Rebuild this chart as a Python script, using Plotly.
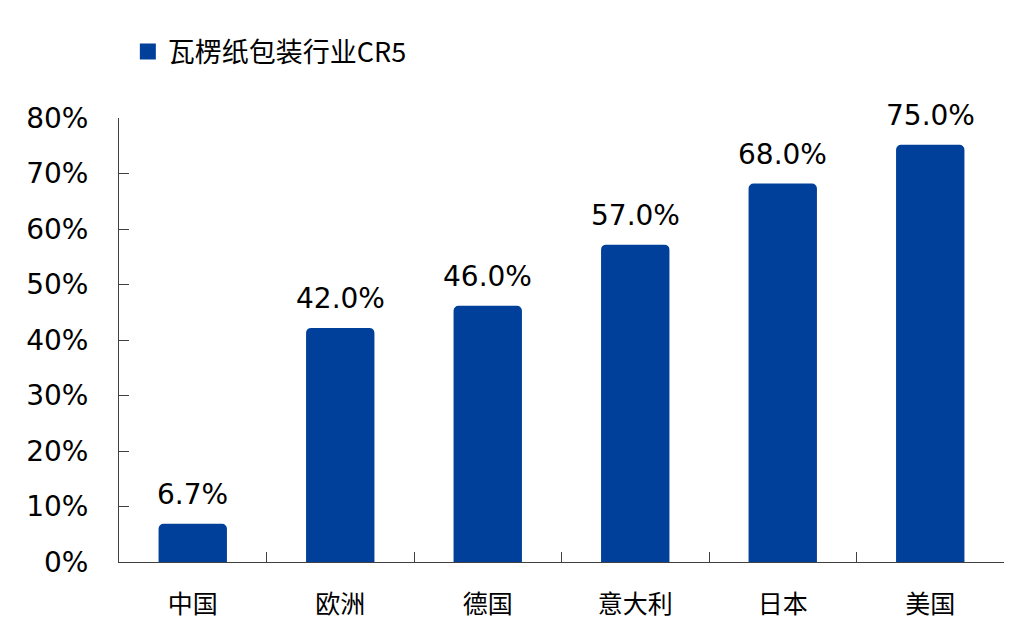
import plotly.graph_objects as go

categories = ["中国", "欧洲", "德国", "意大利", "日本", "美国"]
values = [0.067, 0.42, 0.46, 0.57, 0.68, 0.75]
labels = ["6.7%", "42.0%", "46.0%", "57.0%", "68.0%", "75.0%"]
tick_vals = [0, 0.1, 0.2, 0.3, 0.4, 0.5, 0.6, 0.7, 0.8]
tick_text = ["0%", "10%", "20%", "30%", "40%", "50%", "60%", "70%", "80%"]
series_name = "瓦楞纸包装行业CR5"

color = "#00409A"

fig = go.Figure()
fig.add_trace(go.Bar(
    x=categories, y=values, name=series_name,
    marker=dict(color=color, line=dict(color=color, width=2), cornerradius=4),
    width=0.45,
    showlegend=False, legendgroup="s",
))
# legend entry with a larger square symbol
fig.add_trace(go.Scatter(
    x=[None], y=[None], mode="markers", name=series_name, legendgroup="s",
    marker=dict(symbol="square", size=22, color=color),
    showlegend=True,
))

# data labels above bars, positioned by the axis scales
for cat, val, lab in zip(categories, values, labels):
    fig.add_annotation(x=cat, y=val, text=lab, showarrow=False,
                       xanchor="center", yanchor="bottom", yshift=12,
                       font=dict(family="DejaVu Sans", size=28, color="#000000"))

fig.update_layout(
    width=1029, height=634,
    margin=dict(l=119, r=25, t=118, b=72, autoexpand=False),
    paper_bgcolor="white", plot_bgcolor="white",
    showlegend=True,
    legend=dict(x=0.01, y=1.149, xanchor="left", yanchor="middle",
                font=dict(family="Noto Sans CJK SC", size=27, color="#000000"),
                itemsizing="trace", itemwidth=30,
                bgcolor="rgba(0,0,0,0)"),
    xaxis=dict(type="category", showline=True, linecolor="#404040", linewidth=1,
               ticks="inside", tickson="boundaries", ticklen=10, tickcolor="#404040",
               tickfont=dict(family="Noto Sans CJK SC", size=25, color="#000000"),
               showgrid=False, ticklabelstandoff=20),
    yaxis=dict(range=[0, 0.8], tickvals=tick_vals, ticktext=tick_text,
               showline=True, linecolor="#404040", linewidth=1,
               ticks="inside", ticklen=10, tickcolor="#404040",
               tickfont=dict(family="DejaVu Sans", size=28, color="#000000"),
               showgrid=False, zeroline=False, ticklabelstandoff=24),
)

fig.write_html("out.html")
